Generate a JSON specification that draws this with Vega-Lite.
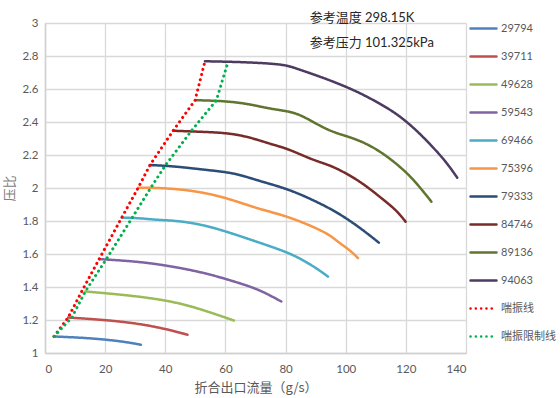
{
  "$schema": "https://vega.github.io/schema/vega-lite/v6.json",
  "autosize": {"type": "none"},
  "padding": {"left": 45, "top": 23, "right": 94, "bottom": 45},
  "width": 421,
  "height": 330,
  "background": "white",
  "config": {
    "view": {"stroke": null},
    "font": "Lato, Noto Sans CJK SC",
    "axis": {"labelFont": "Lato, Noto Sans CJK SC", "titleFont": "Noto Sans CJK SC", "labelColor": "#595959", "titleColor": "#595959", "titleFontWeight": "normal", "gridColor": "#D9D9D9", "gridWidth": 1.3, "domainColor": "#D0D0D0", "domainWidth": 1.5, "ticks": false, "labelFontSize": 11.5, "titleFontSize": 13, "labelOverlap": false}
  },
  "datasets": {
    "curves": [
      {"series": "29794", "x": 3.0, "y": 1.100},
      {"series": "29794", "x": 15.0, "y": 1.091},
      {"series": "29794", "x": 26.0, "y": 1.070},
      {"series": "29794", "x": 31.9, "y": 1.050},
      {"series": "39711", "x": 7.7, "y": 1.215},
      {"series": "39711", "x": 20.5, "y": 1.200},
      {"series": "39711", "x": 31.6, "y": 1.177},
      {"series": "39711", "x": 40.4, "y": 1.145},
      {"series": "39711", "x": 47.4, "y": 1.111},
      {"series": "49628", "x": 13.4, "y": 1.373},
      {"series": "49628", "x": 20.4, "y": 1.362},
      {"series": "49628", "x": 31.6, "y": 1.342},
      {"series": "49628", "x": 42.6, "y": 1.312},
      {"series": "49628", "x": 51.5, "y": 1.268},
      {"series": "49628", "x": 62.8, "y": 1.197},
      {"series": "59543", "x": 18.0, "y": 1.569},
      {"series": "59543", "x": 31.6, "y": 1.554},
      {"series": "59543", "x": 42.6, "y": 1.524},
      {"series": "59543", "x": 53.7, "y": 1.484},
      {"series": "59543", "x": 64.8, "y": 1.423},
      {"series": "59543", "x": 71.4, "y": 1.383},
      {"series": "59543", "x": 78.6, "y": 1.312},
      {"series": "69466", "x": 25.5, "y": 1.820},
      {"series": "69466", "x": 31.5, "y": 1.818},
      {"series": "69466", "x": 37.1, "y": 1.806},
      {"series": "69466", "x": 42.6, "y": 1.804},
      {"series": "69466", "x": 51.5, "y": 1.782},
      {"series": "69466", "x": 60.4, "y": 1.736},
      {"series": "69466", "x": 70.3, "y": 1.675},
      {"series": "69466", "x": 79.5, "y": 1.618},
      {"series": "69466", "x": 84.7, "y": 1.575},
      {"series": "69466", "x": 90.3, "y": 1.514},
      {"series": "69466", "x": 94.1, "y": 1.463},
      {"series": "75396", "x": 31.0, "y": 2.002},
      {"series": "75396", "x": 37.1, "y": 2.002},
      {"series": "75396", "x": 48.2, "y": 1.988},
      {"series": "75396", "x": 59.2, "y": 1.948},
      {"series": "75396", "x": 70.3, "y": 1.877},
      {"series": "75396", "x": 78.1, "y": 1.841},
      {"series": "75396", "x": 83.6, "y": 1.806},
      {"series": "75396", "x": 89.1, "y": 1.766},
      {"series": "75396", "x": 94.7, "y": 1.716},
      {"series": "75396", "x": 98.0, "y": 1.665},
      {"series": "75396", "x": 101.3, "y": 1.625},
      {"series": "75396", "x": 104.1, "y": 1.575},
      {"series": "79333", "x": 34.9, "y": 2.139},
      {"series": "79333", "x": 42.6, "y": 2.133},
      {"series": "79333", "x": 53.7, "y": 2.109},
      {"series": "79333", "x": 62.6, "y": 2.093},
      {"series": "79333", "x": 70.3, "y": 2.048},
      {"series": "79333", "x": 78.1, "y": 2.008},
      {"series": "79333", "x": 83.6, "y": 1.972},
      {"series": "79333", "x": 89.1, "y": 1.927},
      {"series": "79333", "x": 94.7, "y": 1.877},
      {"series": "79333", "x": 100.2, "y": 1.817},
      {"series": "79333", "x": 105.7, "y": 1.746},
      {"series": "79333", "x": 111.0, "y": 1.669},
      {"series": "84746", "x": 42.6, "y": 2.347},
      {"series": "84746", "x": 51.5, "y": 2.341},
      {"series": "84746", "x": 59.2, "y": 2.335},
      {"series": "84746", "x": 64.8, "y": 2.321},
      {"series": "84746", "x": 70.3, "y": 2.295},
      {"series": "84746", "x": 75.8, "y": 2.262},
      {"series": "84746", "x": 80.8, "y": 2.238},
      {"series": "84746", "x": 89.1, "y": 2.169},
      {"series": "84746", "x": 94.7, "y": 2.139},
      {"series": "84746", "x": 100.2, "y": 2.089},
      {"series": "84746", "x": 105.7, "y": 2.028},
      {"series": "84746", "x": 111.3, "y": 1.947},
      {"series": "84746", "x": 116.8, "y": 1.867},
      {"series": "84746", "x": 119.9, "y": 1.796},
      {"series": "89136", "x": 50.2, "y": 2.532},
      {"series": "89136", "x": 59.2, "y": 2.528},
      {"series": "89136", "x": 67.0, "y": 2.512},
      {"series": "89136", "x": 73.6, "y": 2.485},
      {"series": "89136", "x": 78.1, "y": 2.472},
      {"series": "89136", "x": 83.6, "y": 2.456},
      {"series": "89136", "x": 89.1, "y": 2.401},
      {"series": "89136", "x": 94.7, "y": 2.345},
      {"series": "89136", "x": 100.2, "y": 2.315},
      {"series": "89136", "x": 105.7, "y": 2.280},
      {"series": "89136", "x": 111.3, "y": 2.224},
      {"series": "89136", "x": 116.8, "y": 2.149},
      {"series": "89136", "x": 122.3, "y": 2.059},
      {"series": "89136", "x": 128.5, "y": 1.917},
      {"series": "94063", "x": 53.2, "y": 2.768},
      {"series": "94063", "x": 64.8, "y": 2.764},
      {"series": "94063", "x": 75.8, "y": 2.754},
      {"series": "94063", "x": 80.8, "y": 2.742},
      {"series": "94063", "x": 83.6, "y": 2.724},
      {"series": "94063", "x": 89.1, "y": 2.690},
      {"series": "94063", "x": 94.7, "y": 2.653},
      {"series": "94063", "x": 100.2, "y": 2.613},
      {"series": "94063", "x": 105.7, "y": 2.567},
      {"series": "94063", "x": 111.3, "y": 2.512},
      {"series": "94063", "x": 116.8, "y": 2.452},
      {"series": "94063", "x": 122.3, "y": 2.371},
      {"series": "94063", "x": 127.9, "y": 2.270},
      {"series": "94063", "x": 133.4, "y": 2.159},
      {"series": "94063", "x": 137.1, "y": 2.062}
    ],
    "surge": [
      {"series": "喘振线", "x": 3.0, "y": 1.100},
      {"series": "喘振线", "x": 7.7, "y": 1.215},
      {"series": "喘振线", "x": 12.2, "y": 1.373},
      {"series": "喘振线", "x": 18.0, "y": 1.569},
      {"series": "喘振线", "x": 25.5, "y": 1.820},
      {"series": "喘振线", "x": 31.0, "y": 2.002},
      {"series": "喘振线", "x": 34.9, "y": 2.139},
      {"series": "喘振线", "x": 42.6, "y": 2.347},
      {"series": "喘振线", "x": 49.9, "y": 2.532},
      {"series": "喘振线", "x": 53.2, "y": 2.768},
      {"series": "喘振限制线", "x": 3.0, "y": 1.100},
      {"series": "喘振限制线", "x": 8.9, "y": 1.215},
      {"series": "喘振限制线", "x": 13.4, "y": 1.373},
      {"series": "喘振限制线", "x": 20.4, "y": 1.569},
      {"series": "喘振限制线", "x": 29.0, "y": 1.820},
      {"series": "喘振限制线", "x": 35.2, "y": 2.002},
      {"series": "喘振限制线", "x": 40.1, "y": 2.139},
      {"series": "喘振限制线", "x": 48.7, "y": 2.347},
      {"series": "喘振限制线", "x": 57.0, "y": 2.532},
      {"series": "喘振限制线", "x": 60.9, "y": 2.766}
    ]
  },
  "layer": [
    {
      "data": {"name": "curves"},
      "mark": {"type": "line", "interpolate": "basis", "strokeWidth": 2.5, "strokeCap": "round"},
      "encoding": {
        "x": {"field": "x", "type": "quantitative", "scale": {"domain": [0, 140], "nice": false}, "axis": {"values": [0, 20, 40, 60, 80, 100, 120, 140], "title": "折合出口流量（g/s）", "labelPadding": 10, "titlePadding": 7}},
        "y": {"field": "y", "type": "quantitative", "scale": {"domain": [1, 3], "nice": false, "zero": false}, "axis": {"values": [1, 1.2, 1.4, 1.6, 1.8, 2, 2.2, 2.4, 2.6, 2.8, 3], "format": ".1~f", "title": "压比", "labelPadding": 7, "titlePadding": 5, "titleColor": "#808080"}},
        "color": {"field": "series", "type": "nominal", "scale": {"domain": ["29794", "39711", "49628", "59543", "69466", "75396", "79333", "84746", "89136", "94063", "喘振线", "喘振限制线"], "range": ["#4F81BD", "#C0504D", "#9BBB59", "#8064A2", "#4BACC6", "#F79646", "#2C4D75", "#772C2A", "#5F7530", "#4D3B62", "#FF0000", "#00B050"]}, "legend": {"title": null, "orient": "none", "legendX": 424, "legendY": -9, "padding": 0, "symbolType": "stroke", "symbolSize": 676, "symbolStrokeWidth": 2.5, "labelFontSize": 11, "labelColor": "#595959", "labelFont": "Lato, Noto Sans CJK SC", "rowPadding": 8, "labelOffset": 3, "symbolLimit": 20, "encode": {"symbols": {"update": {"strokeCap": {"value": "round"}}}}}},
        "strokeDash": {"field": "series", "type": "nominal", "scale": {"domain": ["29794", "39711", "49628", "59543", "69466", "75396", "79333", "84746", "89136", "94063", "喘振线", "喘振限制线"], "range": [[1, 0], [1, 0], [1, 0], [1, 0], [1, 0], [1, 0], [1, 0], [1, 0], [1, 0], [1, 0], [0.1, 5.2], [0.1, 5.2]]}, "legend": null}
      }
    },
    {
      "data": {"name": "surge"},
      "mark": {"type": "line", "interpolate": "linear", "strokeWidth": 3, "strokeCap": "round"},
      "encoding": {
        "x": {"field": "x", "type": "quantitative", "scale": {"domain": [0, 140], "nice": false}, "axis": {"values": [0, 20, 40, 60, 80, 100, 120, 140], "title": "折合出口流量（g/s）", "labelPadding": 10, "titlePadding": 7}},
        "y": {"field": "y", "type": "quantitative", "scale": {"domain": [1, 3], "nice": false, "zero": false}, "axis": {"values": [1, 1.2, 1.4, 1.6, 1.8, 2, 2.2, 2.4, 2.6, 2.8, 3], "format": ".1~f", "title": "压比", "labelPadding": 7, "titlePadding": 5, "titleColor": "#808080"}},
        "color": {"field": "series", "type": "nominal"},
        "strokeDash": {"field": "series", "type": "nominal"}
      }
    },
    {
      "data": {"values": [{"note": "参考温度 298.15K"}]},
      "mark": {"type": "text", "align": "left", "baseline": "middle", "fontSize": 13, "fill": "#262626", "font": "Lato, Noto Sans CJK SC", "clip": false},
      "encoding": {
        "x": {"datum": 88, "type": "quantitative", "axis": {"values": [0, 20, 40, 60, 80, 100, 120, 140], "title": "折合出口流量（g/s）", "labelPadding": 10, "titlePadding": 7}},
        "y": {"datum": 3.03, "type": "quantitative", "axis": {"values": [1, 1.2, 1.4, 1.6, 1.8, 2, 2.2, 2.4, 2.6, 2.8, 3], "format": ".1~f", "title": "压比", "labelPadding": 7, "titlePadding": 5, "titleColor": "#808080"}},
        "text": {"field": "note", "type": "nominal"}
      }
    },
    {
      "data": {"values": [{"note": "参考压力 101.325kPa"}]},
      "mark": {"type": "text", "align": "left", "baseline": "middle", "fontSize": 13, "fill": "#262626", "font": "Lato, Noto Sans CJK SC", "clip": false},
      "encoding": {
        "x": {"datum": 88, "type": "quantitative", "axis": {"values": [0, 20, 40, 60, 80, 100, 120, 140], "title": "折合出口流量（g/s）", "labelPadding": 10, "titlePadding": 7}},
        "y": {"datum": 2.88, "type": "quantitative", "axis": {"values": [1, 1.2, 1.4, 1.6, 1.8, 2, 2.2, 2.4, 2.6, 2.8, 3], "format": ".1~f", "title": "压比", "labelPadding": 7, "titlePadding": 5, "titleColor": "#808080"}},
        "text": {"field": "note", "type": "nominal"}
      }
    }
  ]
}
